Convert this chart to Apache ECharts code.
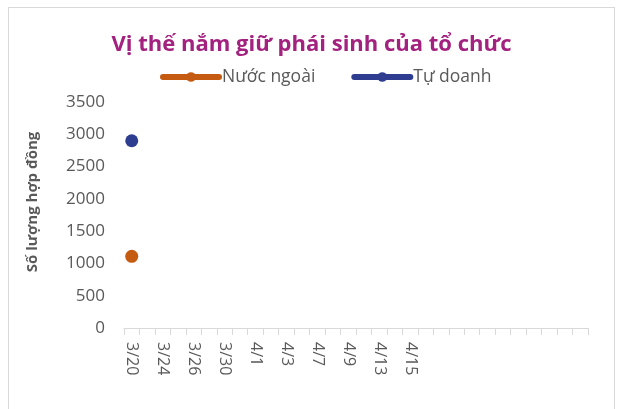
<!DOCTYPE html>
<html>
<head>
<meta charset="utf-8">
<script src="https://cdn.jsdelivr.net/npm/echarts@6/dist/echarts.min.js"></script>
<style>
  html, body { margin: 0; padding: 0; background: #fff; }
  #frame {
    position: absolute; left: 8px; top: 7px; width: 607px; height: 410px;
    border: 1px solid #d9d9d9; box-sizing: border-box;
  }
  #chart { position: absolute; left: 0; top: 0; width: 623px; height: 409px; }
</style>
</head>
<body>
<div id="frame"></div>
<div id="chart"></div>
<script>
// categories: trading days, the tail of the axis is still empty
const dates = [
  '3/20', '3/23', '3/24', '3/25', '3/26', '3/27', '3/30', '3/31', '4/1', '4/2',
  '4/3', '4/6', '4/7', '4/8', '4/9', '4/10', '4/13', '4/14', '4/15', '',
  '', '', '', '', '', '', '', '', '', ''
]
const foreignValues = [1110]
const propValues = [2900]
const yTicks = [0, 500, 1000, 1500, 2000, 2500, 3000, 3500]

const textGray = '#595959'
const font = '"Open Sans", Lato, sans-serif'

const chart = echarts.init(document.getElementById('chart'), null, { renderer: 'canvas' })

chart.setOption({
  animation: false,
  title: {
    text: 'Vị thế nắm giữ phái sinh của tổ chức',
    left: 'center',
    top: 29,
    textStyle: { color: '#a3217f', fontSize: 22, fontWeight: 'bold', fontFamily: font },
  },
  legend: {
    top: 63,
    left: 155,
    itemWidth: 56,
    itemHeight: 12,
    itemGap: 36,
    textStyle: { color: textGray, fontSize: 17.5, fontFamily: font, padding: [0, 0, 0, -2] },
    lineStyle: { width: 6, cap: 'round' },
    data: ['Nước ngoài', 'Tự doanh'],
  },
  // y axis title sits a bit above the middle of the axis, like the original
  graphic: [
    {
      type: 'text',
      x: 33,
      y: 202,
      rotation: Math.PI / 2,
      style: {
        text: 'Số lượng hợp đồng',
        fill: textGray,
        font: `bold 15px ${font}`,
        align: 'center',
        verticalAlign: 'middle',
      },
    },
  ],
  grid: { left: 124, right: 35, top: 102, bottom: 81, containLabel: false },
  xAxis: {
    type: 'category',
    data: dates,
    boundaryGap: true,
    axisLine: { lineStyle: { color: '#d9d9d9', width: 1 } },
    axisTick: { show: true, interval: 0, length: 7, lineStyle: { color: '#d9d9d9' } },
    axisLabel: {
      interval: 1,
      rotate: -90,
      color: textGray,
      fontSize: 16,
      fontFamily: font,
      margin: 14,
    },
  },
  yAxis: {
    type: 'value',
    min: yTicks[0],
    max: yTicks[yTicks.length - 1],
    interval: 500,
    axisLine: { show: false },
    axisTick: { show: false },
    splitLine: { show: false },
    axisLabel: {
      color: textGray,
      fontSize: 17,
      fontFamily: font,
      margin: 19,
      formatter: (v) => String(v),
    },
  },
  series: [
    {
      name: 'Nước ngoài',
      type: 'line',
      data: foreignValues,
      symbol: 'circle',
      symbolSize: 13,
      lineStyle: { width: 4, color: '#c55a11' },
      itemStyle: { color: '#c55a11' },
    },
    {
      name: 'Tự doanh',
      type: 'line',
      data: propValues,
      symbol: 'circle',
      symbolSize: 13,
      lineStyle: { width: 4, color: '#2f3d91' },
      itemStyle: { color: '#2f3d91' },
    },
  ],
})
</script>
</body>
</html>
